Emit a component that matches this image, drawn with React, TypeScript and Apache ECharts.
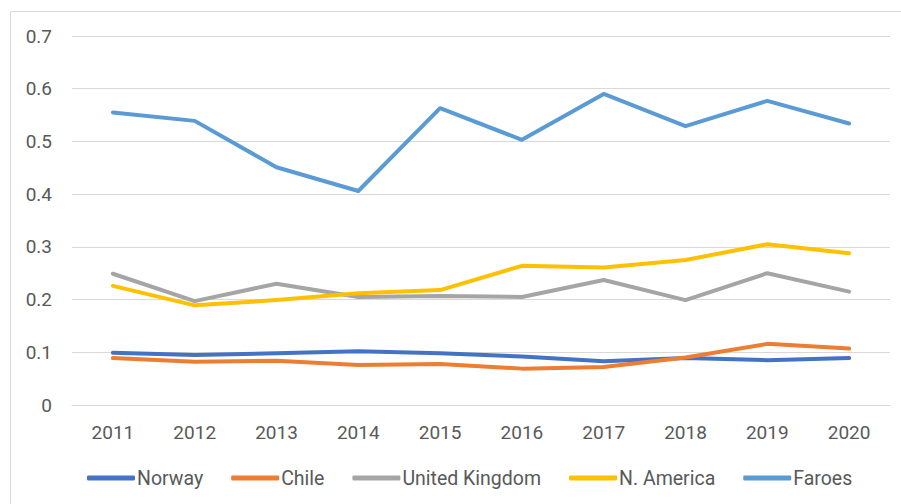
import React, { useEffect, useRef } from "react";
import * as echarts from "echarts";

const years = ["2011", "2012", "2013", "2014", "2015", "2016", "2017", "2018", "2019", "2020"];
const norway = [0.099, 0.095, 0.098, 0.102, 0.098, 0.092, 0.083, 0.089, 0.085, 0.089];
const chile = [0.089, 0.082, 0.084, 0.076, 0.078, 0.069, 0.072, 0.090, 0.116, 0.107];
const uk = [0.249, 0.197, 0.230, 0.205, 0.207, 0.205, 0.237, 0.199, 0.250, 0.215];
const nAmerica = [0.226, 0.189, 0.199, 0.212, 0.218, 0.264, 0.261, 0.275, 0.305, 0.288];
const faroes = [0.555, 0.539, 0.451, 0.406, 0.563, 0.503, 0.590, 0.529, 0.577, 0.534];
const yTicks = [0, 0.1, 0.2, 0.3, 0.4, 0.5, 0.6, 0.7];

const seriesDefs = [
  { name: "Norway", data: norway, color: "#4472C4" },
  { name: "Chile", data: chile, color: "#ED7D31" },
  { name: "United Kingdom", data: uk, color: "#A5A5A5" },
  { name: "N. America", data: nAmerica, color: "#FFC000" },
  { name: "Faroes", data: faroes, color: "#5B9BD5" },
];

const FONT = "Roboto";
const TEXT = "#595959";

export default function App() {
  const ref = useRef<HTMLDivElement>(null);
  useEffect(() => {
    if (!ref.current) return;
    const chart = echarts.init(ref.current, null, { renderer: "svg" });
    chart.setOption({
      animation: false,
      backgroundColor: "#ffffff",
      graphic: [
        {
          type: "rect",
          shape: { x: 10.5, y: 11.5, width: 1000, height: 1000 },
          style: { fill: "none", stroke: "#d9d9d9", lineWidth: 1 },
          silent: true,
        },
      ],
      grid: { left: 72, right: 11, top: 36, bottom: 99, containLabel: false },
      xAxis: {
        type: "category",
        data: years,
        boundaryGap: true,
        axisLine: { show: true, lineStyle: { color: "#d9d9d9", width: 1 } },
        axisTick: { show: false },
        axisLabel: { color: TEXT, fontFamily: FONT, fontSize: 19, margin: 18 },
      },
      yAxis: {
        type: "value",
        min: yTicks[0],
        max: yTicks[yTicks.length - 1],
        interval: 0.1,
        axisLine: { show: false },
        axisTick: { show: false },
        splitLine: { lineStyle: { color: "#d9d9d9", width: 1 } },
        axisLabel: {
          color: TEXT,
          fontFamily: FONT,
          fontSize: 19,
          margin: 20,
          formatter: (v: number) => String(Math.round(v * 10) / 10),
        },
      },
      legend: {
        left: 82,
        top: 463,
        itemWidth: 48,
        itemHeight: 5,
        itemGap: 28,
        icon: "roundRect",
        textStyle: { color: TEXT, fontFamily: FONT, fontSize: 19.5, padding: [0, 0, 0, -3] },
        data: seriesDefs.map((s) => s.name),
      },
      series: seriesDefs.map((s) => ({
        name: s.name,
        type: "line",
        data: s.data,
        symbol: "none",
        lineStyle: { color: s.color, width: 4, cap: "round", join: "round" },
        itemStyle: { color: s.color },
      })),
    });
    return () => chart.dispose();
  }, []);
  return (
    <div
      ref={ref}
      style={{ position: "fixed", left: 0, top: 0, width: 901, height: 504 }}
    />
  );
}
